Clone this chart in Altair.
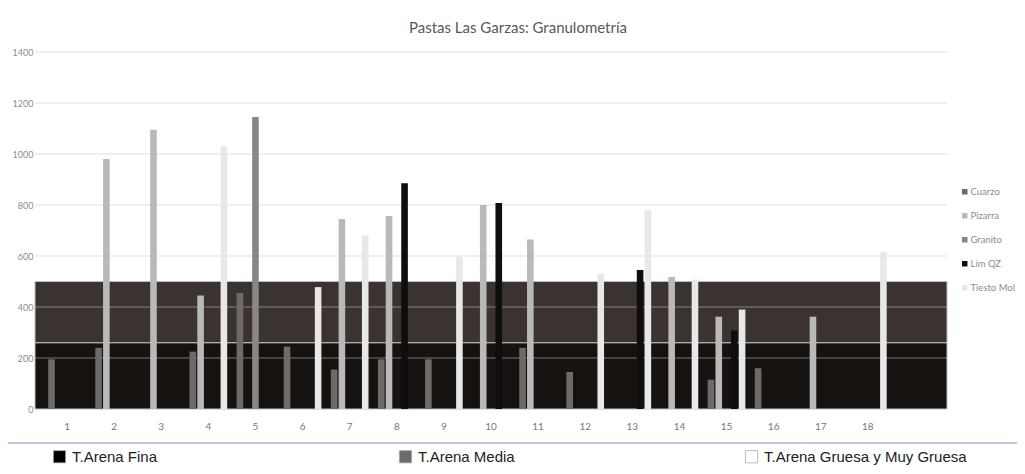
import altair as alt
import pandas as pd

# ---------------- data ----------------
categories = [str(i) for i in range(1, 19)]
x_labels = categories + [""]          # empty 19th slot as in the original axis
series = ["Cuarzo", "Pizarra", "Granito", "Lim QZ", "Tiesto Mol"]
series_colors = ["#6e6a67", "#b9b9b9", "#878787", "#0e0e0e", "#e8e8e8"]

cuarzo = [195, 240, None, 225, 455, 245, 155, 195, 195, None, 240, 145, None, None, 115, 160, None, None]
pizarra = [None, 980, 1095, 445, None, None, 745, 757, None, 800, 665, None, None, 518, 362, None, 362, None]
granito = [None, None, None, None, 1145, None, None, None, None, None, None, None, None, None, None, None, None, None]
lim_qz = [None, None, None, None, None, None, None, 885, None, 808, None, None, 545, None, 308, None, None, None]
tiesto_mol = [None, None, None, 1030, None, 478, 680, None, 595, None, None, 530, 780, 508, 390, None, None, 617]

size_classes = ["T.Arena Fina", "T.Arena Media", "T.Arena Gruesa y Muy Gruesa"]
class_lo = [0, 260, 500]
class_hi = [260, 500, 1400]
band_colors = ["#15120f", "#3a3330", "#ffffff"]
swatch_colors = ["#000000", "#6b6b6b", "#ffffff"]

y_ticks = [0, 200, 400, 600, 800, 1000, 1200, 1400]
grid_values = [200, 400, 600, 800, 1000, 1200, 1400]

title_text = "Pastas Las Garzas: Granulometría"

# ---------------- tables ----------------
rows = []
for name, vals in zip(series, [cuarzo, pizarra, granito, lim_qz, tiesto_mol]):
    for cat, v in zip(categories, vals):
        if v is not None:
            rows.append({"cat": cat, "series": name, "value": v})
bars_df = pd.DataFrame(rows)
band_df = pd.DataFrame({"cls": size_classes, "lo": class_lo, "hi": class_hi})
grid_df = pd.DataFrame({"g": grid_values})

W, H = 912, 357
FONT = "Lato"

yscale = alt.Scale(domain=[0, 1400], nice=False, zero=True)
yaxis = alt.Axis(values=y_ticks, format="d", title=None, grid=False, domain=False,
                 ticks=False, labelFont=FONT, labelFontSize=9, labelColor="#8c8c8c",
                 labelPadding=2)

bands = alt.Chart(band_df).transform_filter("datum.lo < 500").mark_rect(
    stroke="#c4beb8", strokeWidth=1
).encode(
    y=alt.Y("lo:Q", scale=yscale, axis=yaxis),
    y2="hi:Q",
    color=alt.Color("cls:N", scale=alt.Scale(domain=size_classes, range=band_colors), legend=None),
)

grid = alt.Chart(grid_df).mark_rule(color="#c8c4c0", opacity=0.55, strokeWidth=1).encode(
    y=alt.Y("g:Q", scale=yscale, axis=yaxis)
)

bars = alt.Chart(bars_df).mark_bar().encode(
    x=alt.X("cat:N", scale=alt.Scale(domain=x_labels, paddingInner=0.2, paddingOuter=0.28),
            sort=x_labels,
            axis=alt.Axis(title=None, labelAngle=0, domain=False, ticks=False,
                          labelFont=FONT, labelFontSize=10, labelColor="#777777",
                          labelPadding=12)),
    xOffset=alt.XOffset("series:N", scale=alt.Scale(domain=series, paddingInner=0.15)),
    y=alt.Y("value:Q", scale=yscale, axis=yaxis),
    color=alt.Color("series:N", scale=alt.Scale(domain=series, range=series_colors),
                    legend=alt.Legend(orient="none", legendX=925, legendY=135, title=None,
                                      symbolType="square", symbolSize=30, symbolStrokeWidth=0,
                                      labelFont=FONT, labelFontSize=9.5, labelColor="#8c8c8c",
                                      labelOffset=1, rowPadding=13)),
)

size_legend = alt.Chart(band_df).mark_square(size=0, opacity=0).encode(
    y=alt.Y("lo:Q", scale=yscale, axis=yaxis),
    fill=alt.Fill("cls:N", scale=alt.Scale(domain=size_classes, range=swatch_colors),
                  legend=alt.Legend(orient="none", legendX=17, legendY=397, title=None,
                                    direction="horizontal", columns=3, gridAlign="all",
                                    columnPadding=122, symbolType="square", symbolSize=150,
                                    symbolOpacity=1, symbolStrokeColor="#aaaaaa",
                                    symbolStrokeWidth=0.8, labelFont="Liberation Sans",
                                    labelFontSize=15, labelColor="#222222", labelLimit=400,
                                    labelOffset=5)),
)

separator = alt.Chart(band_df).mark_rule(color="#c5c5ea", strokeWidth=2).encode(
    x=alt.value(-30), x2=alt.value(982), y=alt.value(391)
)

chart = alt.layer(bands, grid, bars, size_legend, separator).resolve_scale(
    color="independent"
).properties(
    width=W, height=H,
    background="white",
    title=alt.TitleParams(title_text, font=FONT, fontSize=15, fontWeight="normal",
                          color="#595959", anchor="middle", dx=27, offset=12),
    autosize=alt.AutoSizeParams(type="none"),
    padding={"left": 27, "top": 44, "right": 70, "bottom": 58},
).configure_view(stroke=None)

chart.save("out.html", embed_options={"renderer": "svg", "actions": False})
